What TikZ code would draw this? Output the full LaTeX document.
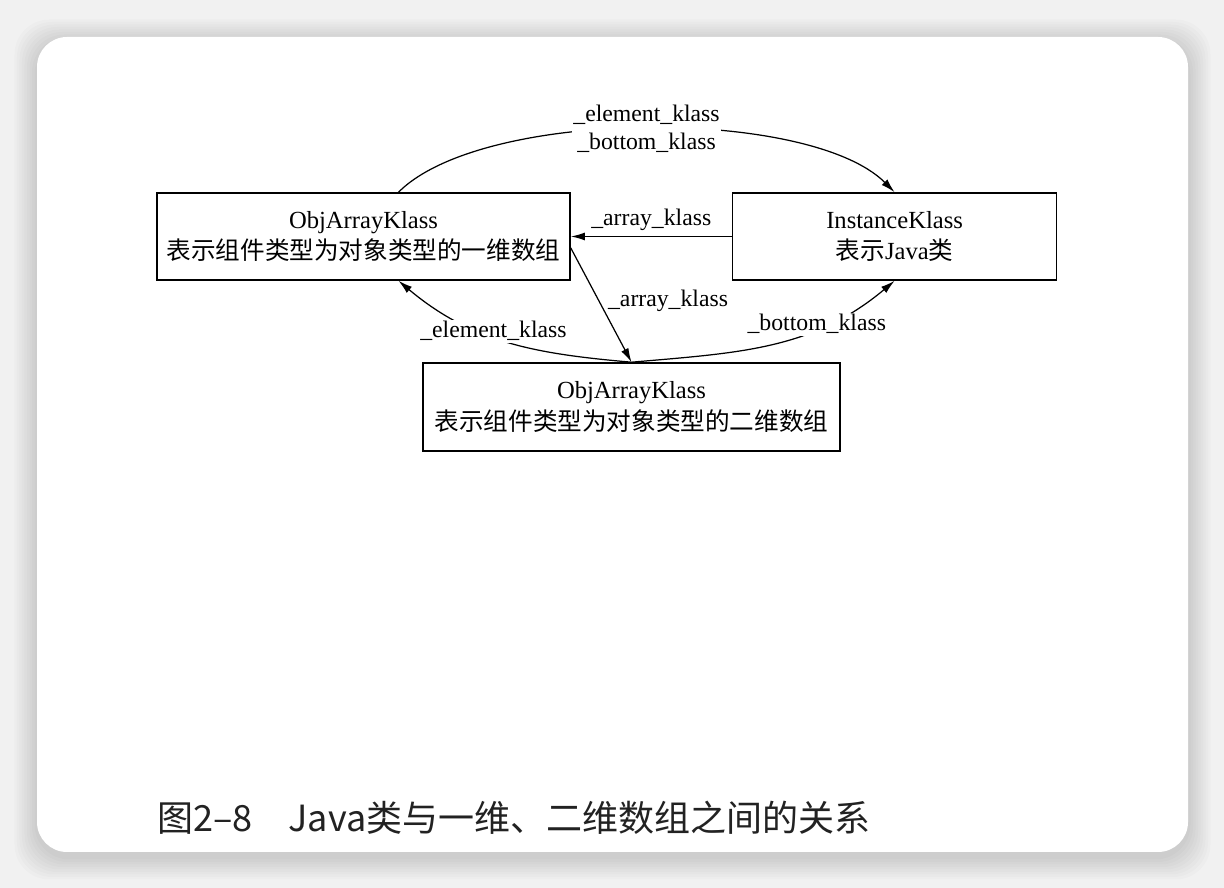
\documentclass[tikz,border=0pt]{standalone}
\usepackage{fontspec}
\setmainfont{Liberation Serif}
\newfontfamily\cjk{Noto Sans CJK SC}
\usetikzlibrary{arrows.meta,positioning,calc}
\definecolor{pagegray}{RGB}{241,241,241}
\definecolor{captiongray}{RGB}{34,34,34}
\tikzset{
  klassbox/.style={draw, line width=0.9pt, minimum height=1.74cm, align=center, inner sep=2pt, font=\fontsize{14}{18}\selectfont},
  ref/.style={-{Latex[length=8pt,width=4.5pt]}, line width=0.7pt},
  labeltext/.style={font=\fontsize{13.5}{16}\selectfont, inner sep=1pt},
  reflabel/.style={labeltext, fill=white}
}

\begin{document}
\begin{tikzpicture}
  \fill[pagegray] (0,0) rectangle (24.48,17.76);
  \foreach \s in {0.05,0.1,...,0.5}
    \fill[black, opacity=0.014, rounded corners=0.7cm] (0.74-\s,0.62-\s) rectangle (23.76+\s,16.92+\s);
  \fill[white, rounded corners=0.6cm] (0.74,0.72) rectangle (23.76,17.02);

  \node[klassbox, minimum width=8.26cm] (a1d) at (7.27,13.03) {ObjArrayKlass\\{\cjk 表示组件类型为对象类型的一维数组}};
  \node[klassbox, minimum width=6.48cm, right=3.22cm of a1d] (inst) {InstanceKlass\\{\cjk 表示}Java{\cjk 类}};
  \node[klassbox, minimum width=8.34cm, minimum height=1.76cm] (a2d) at (12.63,9.62) {ObjArrayKlass\\{\cjk 表示组件类型为对象类型的二维数组}};

  \draw[ref] ([xshift=0.7cm]a1d.north) to[out=45, in=135, looseness=0.62] node[reflabel, align=center] {\_element\_klass\\\_bottom\_klass} (inst.north);
  \draw[ref] (inst.west) -- node[labeltext, above=2pt] {\_array\_klass} (a1d.east);
  \draw[ref] ([yshift=-0.23cm]a1d.east) -- node[labeltext, pos=0.46, right=4pt] {\_array\_klass} (a2d.north);
  \draw[ref] (a2d.north) to[out=175, in=-40] node[reflabel, pos=0.56, yshift=0.12cm] {\_element\_klass} ([xshift=0.7cm]a1d.south);
  \draw[ref] (a2d.north) to[out=5, in=-140] node[reflabel, pos=0.68, yshift=0.1cm] {\_bottom\_klass} (inst.south);

  \node[anchor=west, inner sep=0, text=captiongray, font=\cjk\fontsize{20.5}{24}\selectfont] (caption) at (3.14,1.4) {图2–8　Java类与一维、二维数组之间的关系};
\end{tikzpicture}
\end{document}
